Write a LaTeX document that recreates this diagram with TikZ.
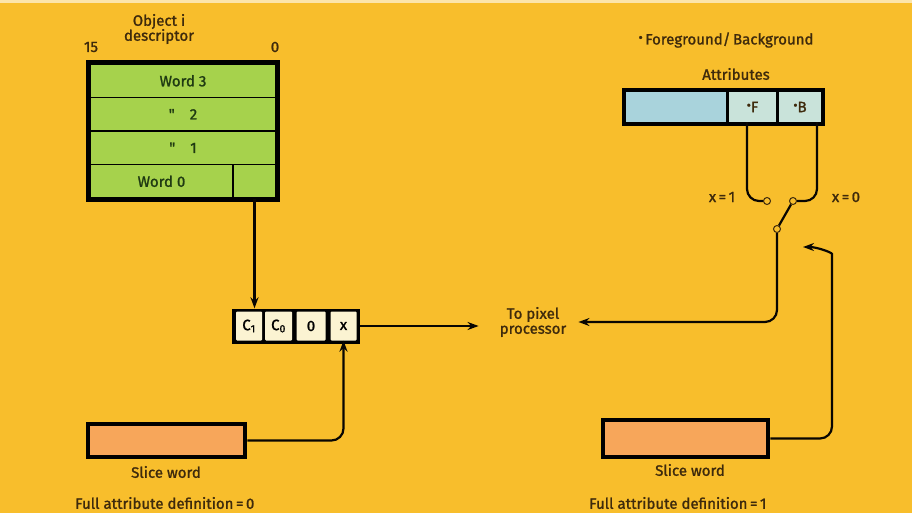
\documentclass[tikz,border=0pt]{standalone}
\usepackage{fontspec}
\setmainfont{Fira Sans}[BoldFont=Fira Sans, BoldFeatures={FakeBold=1.3}]
\usetikzlibrary{arrows.meta}
\definecolor{bg}{HTML}{F8BE2C}
\definecolor{grn}{HTML}{A6D24C}
\definecolor{ink}{HTML}{3E2A0C}
\definecolor{gink}{HTML}{1F3A12}
\definecolor{cream}{HTML}{FBF3D2}
\definecolor{blu}{HTML}{A9D3DC}
\definecolor{cell}{HTML}{C9E3DA}
\definecolor{slc}{HTML}{F7A65A}
\newcommand{\fnt}{\fontsize{15}{17}\selectfont\bfseries}
\newcommand{\bul}{\raisebox{2.5pt}{\fontsize{13}{13}\selectfont\textbullet}}
\tikzset{
  lbl/.style={text=ink, font=\fnt, inner sep=1pt},
  row/.style={draw=black, line width=1.4pt, fill=grn, text=gink, font=\fnt, inner sep=0pt, minimum height=33.5},
  frame/.style={draw=black, line width=4.5pt, inner sep=0pt},
  blk/.style={fill=black, inner sep=0pt},
  ccell/.style={fill=cream, text=black, font=\fnt, inner sep=0pt, minimum height=29, rounded corners=1pt},
  acell/.style={fill=cell, text=ink, font=\fnt, inner sep=0pt, minimum height=30},
  slice/.style={draw=black, line width=4.5pt, fill=slc, inner sep=0pt},
  conn/.style={draw=black!85!ink, line width=2.2pt},
  tip/.style={-{Stealth[length=11pt,width=8pt]}},
  pin/.style={circle, draw=ink, line width=1pt, fill=bg, inner sep=0pt, minimum size=7pt},
}
\begin{document}
\begin{tikzpicture}[x=1pt,y=-1pt]
\useasboundingbox (0,0) rectangle (912,513);
\fill[bg] (0,0) rectangle (912,513);
\fill[bg!40!white] (0,0) rectangle (912,3);

% descriptor
\node[lbl, align=center] (title) at (159,29) {Object i\\[-2pt]descriptor};
\node[lbl] (b15) at (91,47) {15};
\node[lbl] (b0) at (275,47) {0};
\node[row, minimum width=186] (w3) at (183,80.75) {Word 3};
\node[row, minimum width=186] (w2) at (183,114.25) {\textquotedbl\quad 2};
\node[row, minimum width=186] (w1) at (183,147.75) {\textquotedbl\quad 1};
\node[row, minimum width=143] (w0) at (161.5,181.25) {Word 0};
\node[row, minimum width=43] (w0b) at (254.5,181.25) {};
\node[frame, minimum width=190, minimum height=138] (desc) at (183,131) {};

% C box
\node[blk, minimum width=128, minimum height=35] (cbox) at (296,326) {};
\node[ccell, minimum width=26] (c1) at (249,326) {C\textsubscript{1}};
\node[ccell, minimum width=27] (c0) at (278.5,326) {C\textsubscript{0}};
\node[ccell, minimum width=29] (cz) at (311,326) {0};
\node[ccell, minimum width=26] (cx) at (343.5,326) {x};

% pixel processor
\node[lbl, align=center] (proc) at (533,322) {To pixel\\[-2pt]processor};

% attributes
\node[lbl] (fgbg) at (726,40) {\bul\,Foreground/\,Background};
\node[lbl] (attr) at (736,74) {Attributes};
\node[blk, minimum width=203, minimum height=38] (abox) at (723.5,107) {};
\node[acell, fill=blu, minimum width=100] (ab) at (676,107) {};
\node[acell, minimum width=47] (af) at (752.5,107) {\bul F};
\node[acell, minimum width=42] (abb) at (800,107) {\bul B};

% switch
\node[pin] (swF) at (767,201) {};
\node[pin] (swB) at (793,201) {};
\node[pin] (swC) at (777,229) {};
\node[lbl] (x1) at (722,197) {x\,=\,1};
\node[lbl] (x0) at (846,197) {x\,=\,0};

% slice words
\node[slice, minimum width=157, minimum height=33] (s1) at (166.5,440.5) {};
\node[lbl] (s1t) at (166,472) {Slice word};
\node[lbl, anchor=west] (d0) at (74,503) {Full attribute definition\,=\,0};
\node[slice, minimum width=165, minimum height=37] (s2) at (685.5,438.5) {};
\node[lbl] (s2t) at (690,470) {Slice word};
\node[lbl, anchor=west] (d1) at (588,503) {Full attribute definition\,=\,1};
\coordinate (retTop) at (832,266);
\coordinate (retEnd) at (803,247);

% connectors
\draw[conn, tip] (w0b.south) -- (w0b.south |- cbox.north);
\draw[conn, tip] (cbox.east) -- ([xshift=-20]proc.west |- cbox.east);
\draw[conn, rounded corners=12] (af.south -| 747,0) |- (swF.west);
\draw[conn, rounded corners=12] (abb.south -| 817,0) |- (swB.east);
\draw[conn] (swB) -- (swC);
\draw[conn, tip, rounded corners=12] (swC.south) |- ([xshift=11]proc.east);
\draw[conn, tip, rounded corners=12] (s1.east) -| (cx.south);
\draw[conn, tip, rounded corners=12] (s2.east) -| (retTop) to[out=90,in=0] (retEnd);
\end{tikzpicture}
\end{document}
